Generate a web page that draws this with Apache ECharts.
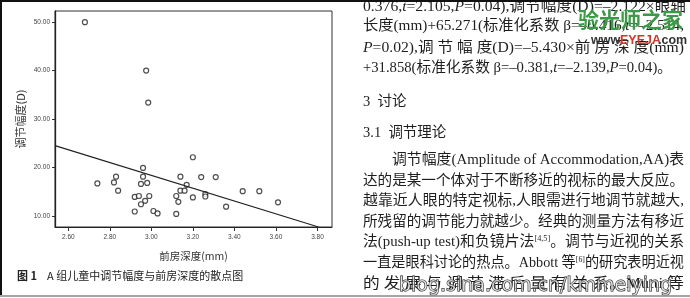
<!DOCTYPE html>
<html>
<head>
<meta charset="utf-8">
<script src="https://cdn.jsdelivr.net/npm/echarts@6/dist/echarts.min.js"></script>
<style>
  html, body { margin: 0; padding: 0; background: #fff; }
  #chart { width: 690px; height: 298px; }
</style>
</head>
<body>
<div id="chart"></div>
<script>
// anterior chamber depth (mm) vs amplitude of accommodation (D)
const depthX = [2.68, 2.975, 2.985, 2.74, 2.82, 2.83, 2.84, 2.92, 2.94, 2.92, 2.95, 2.96, 2.96, 2.98, 2.99, 2.97, 2.95,
    3.01, 3.03, 3.12, 3.12, 3.13, 3.14, 3.14, 3.16, 3.17, 3.20, 3.20, 3.24, 3.26, 3.26, 3.31, 3.36, 3.44, 3.52, 3.61]
const ampY = [50.0, 40.0, 33.4, 16.7, 16.9, 18.1, 15.2, 13.9, 14.1, 10.9, 16.6, 19.9, 18.1, 16.8, 14.1, 13.1, 12.4,
    11.0, 10.5, 10.4, 14.1, 12.9, 18.1, 15.2, 15.2, 16.4, 13.8, 22.1, 18.0, 14.5, 14.0, 18.0, 11.9, 15.1, 15.1, 12.8]

// fit line end points as drawn
const fitX = [2.536, 3.805]
const fitY = [24.5, 7.7]

const xTicks = [2.6, 2.8, 3.0, 3.2, 3.4, 3.6, 3.8]
const yTicks = [10, 20, 30, 40, 50]

const caption = '图 1'
const captionText = 'A 组儿童中调节幅度与前房深度的散点图'

// page text next to the figure (rich markup: i = italic, s = superscript)
const bodyLines = [
    '0.376,{i|t}=2.105,{i|P}=0.04),调节幅度(D)=–2.122×眼轴',
    '长度(mm)+65.271(标准化系数 β=–0.416,{i|t}=–2.514,',
    '{i|P}=0.02),调 节 幅 度(D)=–5.430×前 房 深 度(mm)',
    '+31.858(标准化系数 β=–0.381,{i|t}=–2.139,{i|P}=0.04)。',
]
const heading1 = '3  讨论'
const heading2 = '3.1  调节理论'
const paraLines = [
    '调节幅度(Amplitude of Accommodation,AA)表',
    '达的是某一个体对于不断移近的视标的最大反应。',
    '越靠近人眼的特定视标,人眼需进行地调节就越大,',
    '所残留的调节能力就越少。经典的测量方法有移近',
    '法(push-up test)和负镜片法{s|[4,5]}。调节与近视的关系',
    '一直是眼科讨论的热点。Abbott 等{s|[6]}的研究表明近视',
    '的 发 展 与 调 节 滞 后 量 有 关 系。Mutti 等',
]

const chart = echarts.init(document.getElementById('chart'))

const FONTS = {
    n: '14.5px "Liberation Serif", "Noto Sans CJK SC", serif',
    i: 'italic 14.5px "Liberation Serif", "Noto Sans CJK SC", serif',
    s: '8px "Liberation Serif", serif',
}
const measureCtx = document.createElement('canvas').getContext('2d')

function measureRich(str) {
    let w = 0
    let last = 0
    const re = /\{(\w)\|([^}]*)\}/g
    let m
    while ((m = re.exec(str)) !== null) {
        measureCtx.font = FONTS.n
        w += measureCtx.measureText(str.slice(last, m.index)).width
        measureCtx.font = FONTS[m[1]]
        w += measureCtx.measureText(m[2]).width
        last = re.lastIndex
    }
    measureCtx.font = FONTS.n
    w += measureCtx.measureText(str.slice(last)).width
    return w
}

// text line, stretched to end at `right` like the justified print
function textLine(str, x, y, right) {
    const sx = right ? (right - x) / measureRich(str) : 1
    return {
        type: 'text', x: x, y: y, scaleX: sx,
        style: {
            text: str, x: 0, y: 0, verticalAlign: 'top', font: FONTS.n, fill: '#1e1e1e',
            rich: {
                i: { font: FONTS.i, fill: '#1e1e1e' },
                s: { font: FONTS.s, fill: '#1e1e1e', verticalAlign: 'top' },
            },
        },
    }
}

const graphics = []
const bodyTops = [0, 19, 41, 61]
const bodyRights = [686, 684, 684, 672]
bodyLines.forEach((t, i) => graphics.push(textLine(t, 363, bodyTops[i], bodyRights[i])))
graphics.push(textLine(heading1, 363, 95))
graphics.push(textLine(heading2, 363, 126))
paraLines.forEach((t, i) => {
    graphics.push(textLine(t, i === 0 ? 392 : 363, 153 + i * 20.6, 684))
})

// watermarks
graphics.push({
    type: 'text', x: 578, y: 9,
    style: { text: '验光师之家', font: 'bold 21px "Noto Sans CJK SC", sans-serif', fill: '#3b9a45' },
})
graphics.push({
    type: 'text', x: 591, y: 34,
    style: {
        text: 'www.',
        font: 'bold 12.5px "Liberation Sans", sans-serif',
        fill: '#333',
    },
})
graphics.push({
    type: 'text', x: 620, y: 34,
    style: {
        text: 'EYEJA',
        font: 'bold 12.5px "Liberation Sans", sans-serif',
        fill: '#d9322a',
    },
})
graphics.push({
    type: 'text', x: 658, y: 34,
    style: {
        text: '.com',
        font: 'bold 12.5px "Liberation Sans", sans-serif',
        fill: '#333',
    },
})
graphics.push({
    type: 'text', x: 399, y: 277,
    style: {
        text: 'blog.sina.com.cn/kmmeiying',
        font: '19px "DejaVu Sans", sans-serif',
        fill: 'rgba(255,255,255,0.65)', stroke: '#111', lineWidth: 1,
    },
})

// caption under the plot
graphics.push({
    type: 'text', x: 17, y: 270,
    style: {
        text: '{b|' + caption + '}   {n|' + captionText + '}',
        rich: {
            b: { font: 'bold 11px "Noto Sans CJK SC", sans-serif', fill: '#222' },
            n: { font: '11px "Noto Sans CJK SC", sans-serif', fill: '#222' },
        },
    },
})

// page frame lines from the scan
graphics.push({ type: 'line', shape: { x1: 0, y1: 1, x2: 690, y2: 1 }, style: { stroke: '#111', lineWidth: 2 } })
graphics.push({ type: 'line', shape: { x1: 1, y1: 0, x2: 1, y2: 295 }, style: { stroke: '#111', lineWidth: 2 } })
graphics.push({ type: 'line', shape: { x1: 0, y1: 296, x2: 690, y2: 296 }, style: { stroke: '#888', lineWidth: 1.5 } })

const option = {
    backgroundColor: '#fff',
    animation: false,
    grid: {
        left: 55, top: 11, width: 277, height: 216,
        show: true, borderColor: '#333', borderWidth: 1,
    },
    xAxis: {
        type: 'value',
        min: 2.536,
        max: 3.87,
        name: '前房深度(mm)',
        nameLocation: 'middle',
        nameGap: 24,
        nameTextStyle: { fontSize: 10.5, color: '#333', fontFamily: 'Noto Sans CJK SC' },
        axisLine: { show: true, lineStyle: { color: '#222', width: 1 } },
        axisTick: { show: true, customValues: xTicks, length: 4, lineStyle: { color: '#333' } },
        axisLabel: {
            customValues: xTicks,
            formatter: (v) => v.toFixed(2),
            fontSize: 6.5,
            color: '#444',
            margin: 7,
            fontFamily: 'Liberation Sans',
        },
        splitLine: { show: false },
    },
    yAxis: {
        type: 'value',
        min: 7.7,
        max: 52.3,
        name: '调节幅度(D)',
        nameLocation: 'middle',
        nameGap: 29,
        nameRotate: 90,
        nameTextStyle: { fontSize: 11, color: '#333', fontFamily: 'Noto Sans CJK SC' },
        axisLine: { show: true, lineStyle: { color: '#222', width: 1.3 } },
        axisTick: { show: true, customValues: yTicks, length: 3, lineStyle: { color: '#333' } },
        axisLabel: {
            customValues: yTicks,
            formatter: (v) => v.toFixed(2),
            fontSize: 6.5,
            color: '#444',
            margin: 5,
            fontFamily: 'Liberation Sans',
        },
        splitLine: { show: false },
    },
    series: [
        {
            type: 'scatter',
            data: depthX.map((x, i) => [x, ampY[i]]),
            symbol: 'circle',
            symbolSize: 5,
            itemStyle: { color: '#fff', borderColor: '#222', borderWidth: 1.2 },
        },
        {
            type: 'line',
            data: fitX.map((x, i) => [x, fitY[i]]),
            symbol: 'none',
            lineStyle: { color: '#222', width: 1.2 },
        },
    ],
    graphic: graphics,
}

chart.setOption(option)
</script>
</body>
</html>
